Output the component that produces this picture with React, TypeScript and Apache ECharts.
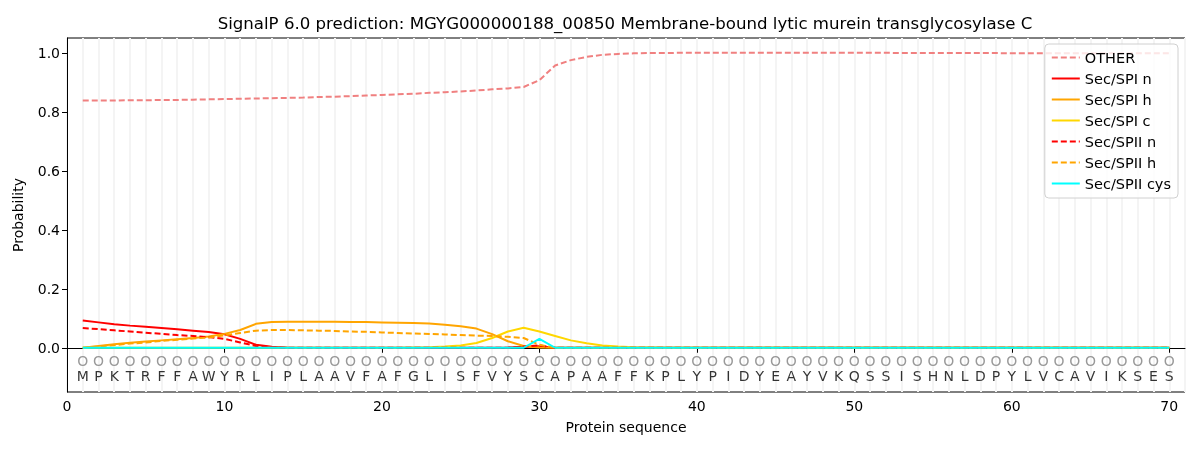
import { useEffect, useRef } from 'react';
import * as echarts from 'echarts';

const sequence = 'MPKTRFFAWYRLIPLAAVFAFGLISFVYSCAPAAFFKPLYPIDYEAYVKQSSISHNLDPYLVCAVIKSES'.split('');
const predicted = 'OOOOOOOOOOOOOOOOOOOOOOOOOOOOOOOOOOOOOOOOOOOOOOOOOOOOOOOOOOOOOOOOOOOOOO'.split('');

const other = [
  0.838, 0.838, 0.838, 0.839, 0.839, 0.84, 0.84, 0.841, 0.842, 0.843,
  0.844, 0.845, 0.846, 0.847, 0.848, 0.85, 0.851, 0.853, 0.855, 0.857,
  0.859, 0.861, 0.864, 0.866, 0.869, 0.872, 0.876, 0.879, 0.884, 0.907,
  0.957, 0.975, 0.986, 0.993, 0.996, 0.998, 0.999, 0.999, 1.0, 1.0,
  1.0, 1.0, 1.0, 1.0, 1.0, 1.0, 1.0, 1.0, 1.0, 1.0,
  1.0, 1.0, 0.999, 0.999, 0.999, 0.999, 0.999, 0.999, 0.999, 0.998,
  0.998, 0.998, 0.998, 0.998, 0.998, 0.998, 0.998, 0.998, 0.998, 0.998,
];
const spiN = [
  0.092, 0.086, 0.08, 0.075, 0.071, 0.067, 0.063, 0.058, 0.053, 0.046,
  0.03, 0.01, 0.003, 0.001, 0, 0, 0, 0, 0, 0,
  0, 0, 0, 0, 0, 0, 0, 0.001, 0.003, 0.005,
  0, 0, 0, 0, 0, 0, 0, 0, 0, 0,
  0, 0, 0, 0, 0, 0, 0, 0, 0, 0,
  0, 0, 0, 0, 0, 0, 0, 0, 0, 0,
  0, 0, 0, 0, 0, 0, 0, 0, 0, 0,
];
const spiH = [
  0, 0.006, 0.012, 0.017, 0.021, 0.025, 0.029, 0.033, 0.038, 0.047,
  0.06, 0.081, 0.087, 0.088, 0.088, 0.088, 0.088, 0.087, 0.087, 0.086,
  0.085, 0.084, 0.082, 0.078, 0.073, 0.065, 0.046, 0.022, 0.006, 0.001,
  0, 0, 0, 0, 0, 0, 0, 0, 0, 0,
  0, 0, 0, 0, 0, 0, 0, 0, 0, 0,
  0, 0, 0, 0, 0, 0, 0, 0, 0, 0,
  0, 0, 0, 0, 0, 0, 0, 0, 0, 0,
];
const spiC = [
  0, 0, 0, 0, 0, 0, 0, 0, 0, 0,
  0, 0, 0, 0, 0, 0, 0, 0, 0, 0,
  0, 0.001, 0.002, 0.004, 0.008, 0.016, 0.033, 0.055, 0.068, 0.055,
  0.04, 0.025, 0.015, 0.008, 0.004, 0.002, 0.001, 0, 0, 0,
  0, 0, 0, 0, 0, 0, 0, 0, 0, 0,
  0, 0, 0, 0, 0, 0, 0, 0, 0, 0,
  0, 0, 0, 0, 0, 0, 0, 0, 0, 0,
];
const spiiN = [
  0.067, 0.063, 0.059, 0.055, 0.051, 0.047, 0.043, 0.04, 0.036, 0.03,
  0.018, 0.006, 0.002, 0, 0, 0, 0, 0, 0, 0,
  0, 0, 0, 0, 0, 0, 0, 0, 0.004, 0.008,
  0, 0, 0, 0, 0, 0, 0, 0, 0, 0,
  0, 0, 0, 0, 0, 0, 0, 0, 0, 0,
  0, 0, 0, 0, 0, 0, 0, 0, 0, 0,
  0, 0, 0, 0, 0, 0, 0, 0, 0, 0,
];
const spiiH = [
  0, 0.004, 0.009, 0.014, 0.018, 0.023, 0.027, 0.031, 0.035, 0.042,
  0.05, 0.058, 0.06, 0.06, 0.059, 0.058, 0.057, 0.055, 0.054, 0.052,
  0.05, 0.048, 0.047, 0.045, 0.043, 0.041, 0.04, 0.037, 0.033, 0.01,
  0, 0, 0, 0, 0, 0, 0, 0, 0, 0,
  0, 0, 0, 0, 0, 0, 0, 0, 0, 0,
  0, 0, 0, 0, 0, 0, 0, 0, 0, 0,
  0, 0, 0, 0, 0, 0, 0, 0, 0, 0,
];
const spiiCys = [
  0, 0, 0, 0, 0, 0, 0, 0, 0, 0,
  0, 0, 0, 0, 0, 0, 0, 0, 0, 0,
  0, 0, 0, 0, 0, 0, 0, 0, 0, 0.03,
  0, 0, 0, 0, 0, 0, 0, 0, 0, 0,
  0, 0, 0, 0, 0, 0, 0, 0, 0, 0,
  0, 0, 0, 0, 0, 0, 0, 0, 0, 0,
  0, 0, 0, 0, 0, 0, 0, 0, 0, 0,
];

const yTicks = [0, 0.2, 0.4, 0.6, 0.8, 1.0];
const xTicks = [0, 10, 20, 30, 40, 50, 60, 70];

const FONT = 'DejaVu Sans';

function lineSeries(name: string, values: number[], color: string, dashed: boolean) {
  return {
    name,
    type: 'line',
    data: values.map((v, i) => [i + 1, v]),
    showSymbol: false,
    symbol: 'none',
    lineStyle: { color, width: 2, type: dashed ? [6, 3] : 'solid' },
    itemStyle: { color },
    z: 3,
  };
}

function textSeries(chars: string[], y: number, color: string) {
  return {
    type: 'scatter',
    data: chars.map((c, i) => [i + 1, y, c]),
    symbolSize: 1,
    itemStyle: { color: 'rgba(0,0,0,0)' },
    silent: true,
    label: {
      show: true,
      position: 'inside',
      formatter: (p: any) => p.value[2],
      color,
      fontFamily: FONT,
      fontSize: 14,
    },
    z: 2,
  };
}

export default function App() {
  const ref = useRef<HTMLDivElement | null>(null);

  useEffect(() => {
    if (!ref.current) return;
    const chart = echarts.init(ref.current, undefined, { renderer: 'svg' });

    chart.setOption({
      animation: false,
      title: {
        text: 'SignalP 6.0 prediction: MGYG000000188_00850 Membrane-bound lytic murein transglycosylase C',
        left: 620,
        textAlign: 'center',
        top: 10,
        textStyle: { fontFamily: FONT, fontSize: 16.6, fontWeight: 'normal', color: '#000' },
      },
      grid: {
        left: 67,
        right: 15,
        top: 38,
        bottom: 58,
        show: true,
        borderColor: '#000',
        borderWidth: 1,
        backgroundColor: 'transparent',
      },
      legend: {
        data: ['OTHER', 'Sec/SPI n', 'Sec/SPI h', 'Sec/SPI c', 'Sec/SPII n', 'Sec/SPII h', 'Sec/SPII cys'],
        orient: 'vertical',
        right: 22,
        top: 44,
        itemWidth: 28,
        itemHeight: 10,
        itemGap: 6,
        padding: [6, 7, 7, 6],
        borderColor: '#d0d0d0',
        borderWidth: 1,
        borderRadius: 4,
        backgroundColor: 'rgba(255,255,255,0.8)',
        itemStyle: { opacity: 0 },
        textStyle: { fontFamily: FONT, fontSize: 14.5, color: '#000' },
      },
      xAxis: [
        {
          type: 'value',
          min: 0,
          max: 71,
          name: 'Protein sequence',
          nameLocation: 'middle',
          nameGap: 28,
          nameTextStyle: { fontFamily: FONT, fontSize: 14, color: '#000' },
          axisLine: { show: true, lineStyle: { color: '#000' } },
          axisTick: { show: true, length: 5, customValues: xTicks, lineStyle: { color: '#000' } },
          axisLabel: { customValues: xTicks, fontFamily: FONT, fontSize: 14, color: '#000', margin: 7 },
          splitLine: { show: false },
        },
        {
          type: 'value',
          min: 0,
          max: 71,
          interval: 1,
          show: true,
          axisLine: { show: false },
          axisTick: { show: false },
          axisLabel: { show: false },
          splitLine: { show: true, lineStyle: { color: '#f4f4f4', width: 2 } },
        },
      ],
      yAxis: {
        type: 'value',
        min: -0.15,
        max: 1.05,
        name: 'Probability',
        nameLocation: 'middle',
        nameGap: 42,
        nameTextStyle: { fontFamily: FONT, fontSize: 14, color: '#000' },
        axisLine: { show: true, lineStyle: { color: '#000' } },
        axisTick: { show: true, length: 5, customValues: yTicks, lineStyle: { color: '#000' } },
        axisLabel: {
          customValues: yTicks,
          formatter: (v: number) => v.toFixed(1),
          fontFamily: FONT,
          fontSize: 14,
          color: '#000',
          margin: 7,
        },
        splitLine: { show: false },
      },
      series: [
        lineSeries('OTHER', other, '#f08080', true),
        lineSeries('Sec/SPI n', spiN, '#ff0000', false),
        lineSeries('Sec/SPI h', spiH, '#ffa500', false),
        lineSeries('Sec/SPI c', spiC, '#ffd700', false),
        lineSeries('Sec/SPII n', spiiN, '#ff0000', true),
        lineSeries('Sec/SPII h', spiiH, '#ffa500', true),
        lineSeries('Sec/SPII cys', spiiCys, '#00ffff', false),
        textSeries(predicted, -0.046, '#808080'),
        textSeries(sequence, -0.096, '#000'),
      ],
    });

    return () => {
      chart.dispose();
    };
  }, []);

  return <div ref={ref} style={{ position: 'fixed', left: 0, top: 0, width: 1200, height: 450 }} />;
}
